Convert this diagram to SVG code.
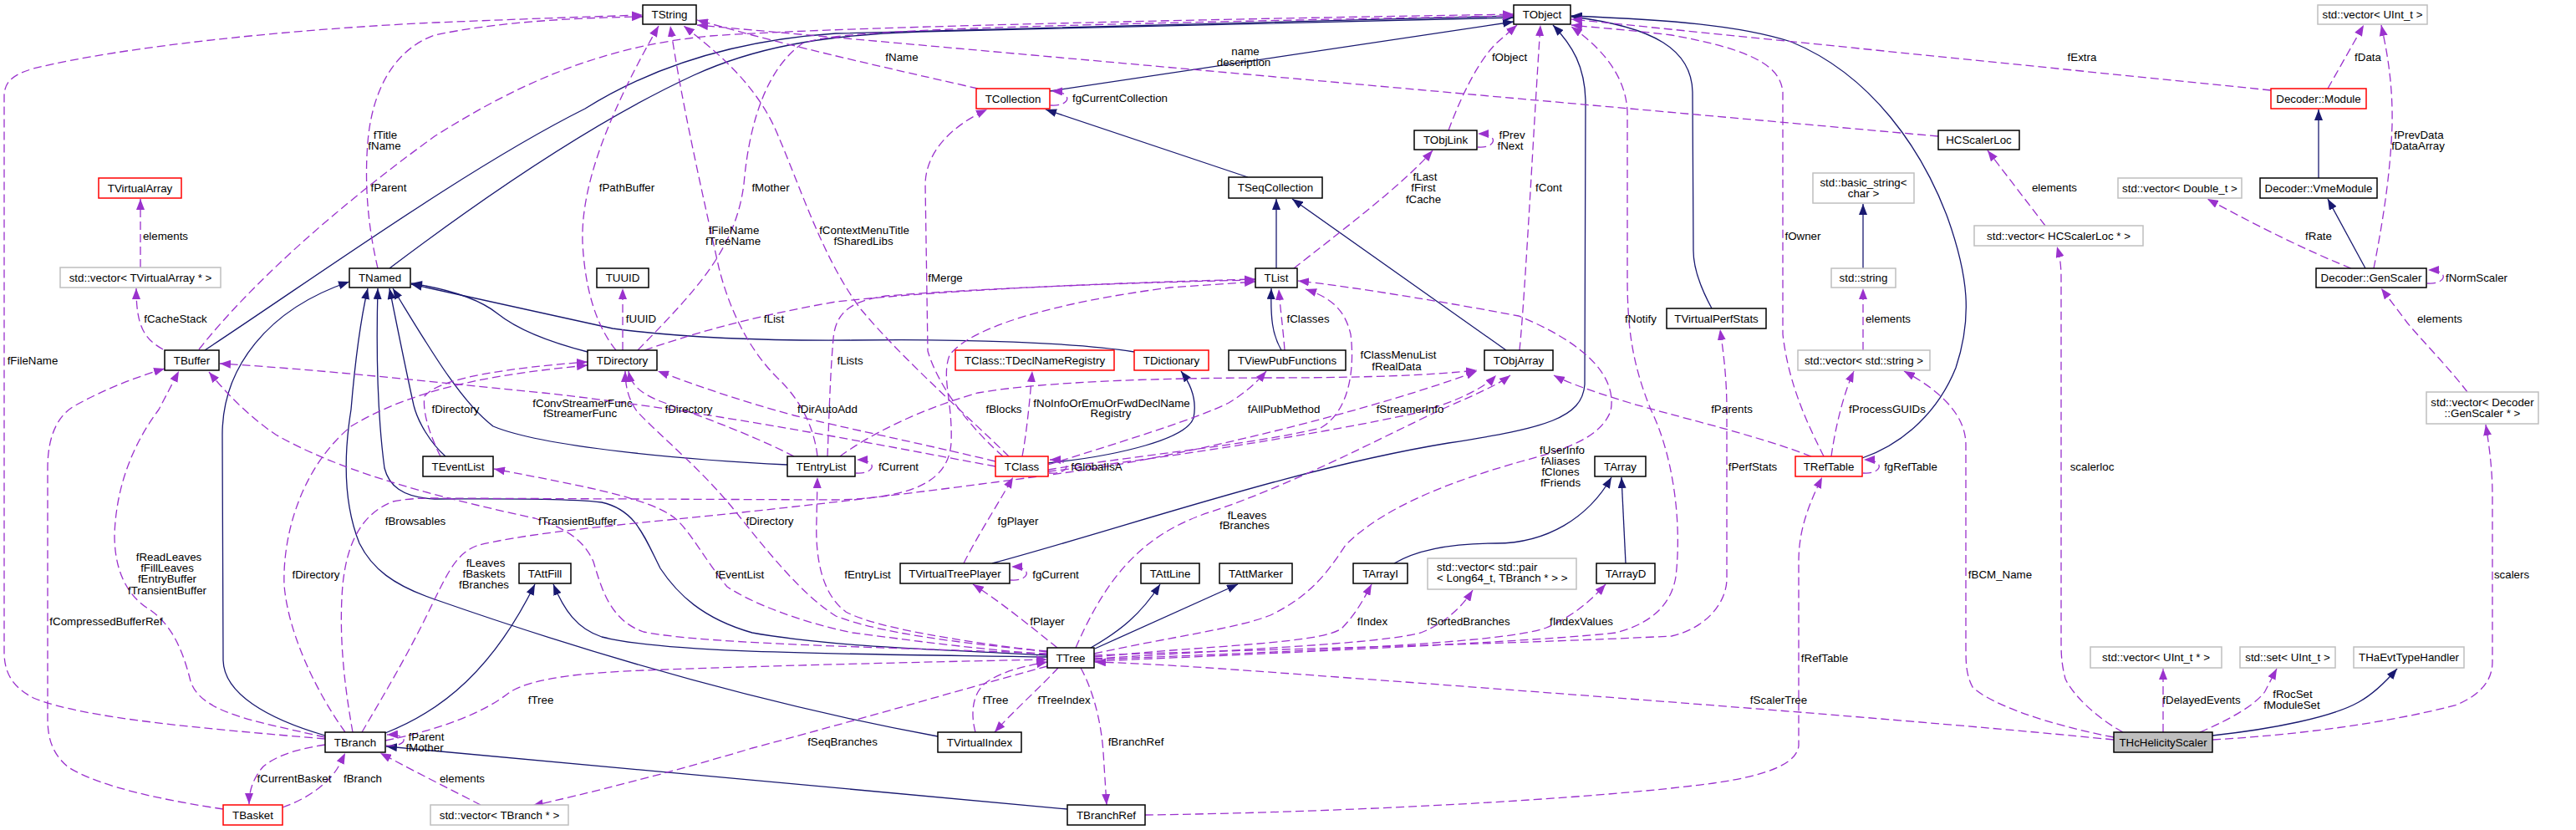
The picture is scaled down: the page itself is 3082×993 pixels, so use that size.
<svg xmlns="http://www.w3.org/2000/svg" width="3082" height="993" viewBox="0 0 3082 993">
<defs>
<style>
.n rect{fill:#fff;stroke:#000;stroke-width:1.5}
.n.r rect{stroke:#ff0000}
.n.g rect{stroke:#bfbfbf}
.n.h rect{fill:#bfbfbf}
text{font-family:"Liberation Sans",Arial,Helvetica,sans-serif;font-size:13.33px;fill:#000;text-anchor:middle}
.s{fill:none;stroke:#191970;stroke-width:1.3;marker-end:url(#an)}
.d{fill:none;stroke:#9a32cd;stroke-width:1.3;stroke-dasharray:10,5;marker-end:url(#ap)}
</style>
<marker id="an" markerUnits="userSpaceOnUse" markerWidth="13" markerHeight="10" refX="13" refY="5" orient="auto"><path d="M0,0 L13,5 L0,10 z" fill="#191970"/></marker>
<marker id="ap" markerUnits="userSpaceOnUse" markerWidth="13" markerHeight="10" refX="13" refY="5" orient="auto"><path d="M0,0 L13,5 L0,10 z" fill="#9a32cd"/></marker>
</defs>
<rect width="3082" height="993" fill="#fff"/>
<g id="connectors">
<path class="s" d="M466,321 C560,250 700,150 830,90 C900,58 980,42 1100,38 L1811,21"/>
<path class="s" d="M245,419 C380,330 560,200 700,130 C780,80 880,48 1000,40 L1811,19"/>
<path class="s" d="M1256,109 L1811,26"/>
<path class="s" d="M1493,212 L1251,131"/>
<path class="s" d="M1527,321 L1527,238"/>
<path class="s" d="M1802,419 L1546,238"/>
<path class="s" d="M1533,419 C1522,400 1520,380 1521,345"/>
<path class="s" d="M703,421 C660,410 620,395 595,375 C570,355 530,345 492,339"/>
<path class="s" d="M1357,421 C1290,410 1150,405 1020,407 C900,408 800,402 733,393 L492,340"/>
<path class="s" d="M1254,554 C1340,545 1420,525 1428,500 C1432,480 1425,460 1413,444"/>
<path class="s" d="M533,546 C515,530 500,505 495,485 C485,440 475,390 466,345"/>
<path class="s" d="M942,556 C820,550 650,535 590,510 C550,480 510,410 470,345"/>
<path class="s" d="M389,880 C320,860 268,830 267,790 L266,520 C266,440 320,370 418,337"/>
<path class="s" d="M1253,784 C1150,778 1000,775 900,757 C840,740 810,710 790,680 C770,640 760,610 720,601 C680,596 600,597 520,597 C480,595 465,580 460,560 C452,500 450,420 452,345"/>
<path class="s" d="M1122,881 C900,840 700,780 520,717 C470,700 445,680 430,650 C410,600 412,540 420,490 C425,430 432,380 440,345"/>
<path class="s" d="M461,877 C530,850 590,800 640,699"/>
<path class="s" d="M1253,786 C1000,782 800,782 720,762 C690,752 675,730 662,699"/>
<path class="s" d="M1305,775 C1340,755 1365,735 1388,699"/>
<path class="s" d="M1310,776 L1481,699"/>
<path class="s" d="M1187,674 C1350,630 1550,560 1733,530 C1850,512 1893,500 1896,460 L1897,120 C1896,80 1882,55 1858,30"/>
<path class="s" d="M2048,369 C2035,345 2026,320 2026,300 L2025,110 C2024,60 1980,32 1880,20"/>
<path class="s" d="M2228,548 C2280,530 2320,490 2340,440 C2360,380 2355,330 2330,260 C2300,180 2240,90 2143,50 C2080,30 2000,24 1880,19"/>
<path class="s" d="M1668,674 C1700,655 1750,650 1790,650 C1850,650 1900,620 1928,571"/>
<path class="s" d="M1945,674 L1940,571"/>
<path class="s" d="M2229,321 L2229,244"/>
<path class="s" d="M2774,213 L2774,131"/>
<path class="s" d="M2830,321 L2785,238"/>
<path class="s" d="M2647,880 C2720,872 2790,858 2822,840 C2840,830 2855,815 2868,800"/>
<path class="s" d="M1277,968 L462,893"/>

<path class="d" d="M168,320 L168,238"/>
<path class="d" d="M195,418 C172,405 163,390 163,345"/>
<path class="d" d="M238,418 C300,340 400,250 520,163 C620,100 720,55 850,43 C1000,32 1500,22 1811,17"/>
<path class="d" d="M452,321 C440,270 436,220 440,170 C445,110 470,60 520,42 C600,25 700,21 769,20"/>
<path class="d" d="M389,884 C250,872 100,860 40,835 C15,822 5,805 5,780 L5,115 C5,95 20,88 40,82 C150,55 350,35 520,27 C620,23 700,20 769,18"/>
<path class="d" d="M737,419 C715,392 700,350 697,290 C695,230 720,150 788,31"/>
<path class="d" d="M763,419 C830,350 880,300 890,220 C897,140 920,80 960,52 C1000,38 1100,32 1811,19"/>
<path class="d" d="M745,419 L745,345"/>
<path class="d" d="M771,419 C850,392 920,375 1000,361 C1150,345 1350,338 1502,334"/>
<path class="d" d="M978,546 C975,518 962,482 930,452 C890,412 870,360 860,320 C840,230 815,120 802,31"/>
<path class="d" d="M990,546 C992,500 993,450 997,405 C1000,372 1020,360 1060,354 C1200,343 1400,337 1502,335"/>
<path class="d" d="M1170,106 C1100,90 1000,68 900,42 L834,24"/>
<path class="d" d="M2319,163 L834,30"/>
<path class="d" d="M1207,546 C1160,500 1080,430 1030,370 C985,310 960,230 930,160 C905,100 855,60 818,31"/>
<path class="d" d="M1200,546 C1170,520 1125,470 1110,420 L1107,220 C1108,180 1140,150 1181,131"/>
<path class="d" d="M1191,558 C1050,532 850,492 650,470 C500,455 380,442 263,435"/>
<path class="d" d="M1191,552 C1100,530 1010,512 950,497 C880,478 830,460 787,444"/>
<path class="d" d="M950,546 C900,520 830,495 790,480 C765,470 755,460 752,444"/>
<path class="d" d="M527,546 C514,520 505,492 508,474 C525,452 610,440 703,433"/>
<path class="d" d="M413,876 C380,830 345,760 340,700 C338,640 360,560 420,510 C500,462 600,447 703,437"/>
<path class="d" d="M389,882 C300,862 240,852 228,815 C218,775 205,748 180,730 C150,712 137,680 137,640 C139,580 160,530 190,490 L214,444"/>
<path class="d" d="M267,968 C200,958 120,942 82,918 C62,902 57,882 57,860 L57,560 C57,520 70,495 92,484 C125,466 160,452 197,441"/>
<path class="d" d="M1253,782 C1100,775 850,772 770,756 C730,742 720,705 710,672 C697,642 670,630 640,620 C500,590 400,560 330,520 C300,500 272,472 250,445"/>
<path class="d" d="M433,876 C460,830 490,780 520,717 C538,680 548,662 570,653 C620,640 700,632 800,622 C950,607 1100,590 1300,562 C1500,530 1700,470 1767,444"/>
<path class="d" d="M422,876 C412,820 405,760 410,700 C415,650 432,615 470,600 C490,596 510,596 520,596 L1000,598 C1100,596 1135,572 1138,530 C1140,480 1126,452 1136,425 C1160,392 1260,362 1400,344 L1502,337"/>
<path class="d" d="M1254,562 C1350,546 1500,532 1580,512 C1615,492 1621,440 1616,400 C1609,370 1592,356 1562,346"/>
<path class="d" d="M1537,419 C1535,392 1532,372 1530,346"/>
<path class="d" d="M1254,556 C1330,532 1430,502 1470,482 C1490,470 1505,456 1515,444"/>
<path class="d" d="M1254,564 C1400,548 1600,515 1690,495 C1740,482 1775,465 1790,449"/>
<path class="d" d="M1005,546 C1040,520 1100,490 1170,470 C1250,456 1400,452 1520,452 C1650,452 1720,448 1767,443"/>
<path class="d" d="M1223,546 C1228,520 1232,480 1235,444"/>
<path class="d" d="M1255,566 C1280,568 1285,550 1256,550"/>
<path class="d" d="M1153,674 C1170,640 1190,610 1212,571"/>
<path class="d" d="M1209,694 C1232,696 1237,678 1210,678"/>
<path class="d" d="M1265,775 C1240,755 1200,722 1164,699"/>
<path class="d" d="M1287,775 C1320,700 1360,640 1450,612 C1550,578 1650,525 1720,492 C1760,474 1790,462 1807,449"/>
<path class="d" d="M1309,782 C1400,762 1480,752 1520,736 C1570,712 1590,682 1610,652 C1660,602 1750,572 1820,552 C1880,536 1915,522 1927,492 C1935,452 1900,412 1817,378 C1700,356 1600,341 1553,336"/>
<path class="d" d="M1309,791 C1500,783 1850,767 1933,757 C1980,745 2000,720 2005,690 C2013,620 2000,540 1975,490 C1955,440 1947,400 1947,333 L1947,133 C1945,93 1920,60 1880,32"/>
<path class="d" d="M1309,786 C1450,772 1580,770 1605,752 C1622,735 1632,716 1641,699"/>
<path class="d" d="M1309,788 C1500,776 1650,770 1700,757 C1730,745 1750,725 1762,706"/>
<path class="d" d="M1309,789 C1500,781 1800,771 1850,751 C1882,737 1902,720 1921,699"/>
<path class="d" d="M1266,799 C1245,822 1215,848 1190,876"/>
<path class="d" d="M1167,876 C1160,850 1165,826 1182,815 C1202,802 1230,796 1253,792"/>
<path class="d" d="M1293,799 C1310,830 1318,870 1320,900 L1324,963"/>
<path class="d" d="M1253,797 C1150,825 1050,855 900,895 C800,925 700,950 637,964"/>
<path class="d" d="M461,886 C530,872 580,852 610,828 C640,810 700,805 770,802 C900,797 1100,792 1253,789"/>
<path class="d" d="M1253,783 C1150,775 1060,762 1020,757 C960,745 900,722 870,702 C845,672 830,642 810,622 C780,596 700,582 591,561"/>
<path class="d" d="M1253,780 C1150,767 1050,752 1012,732 C985,712 975,672 977,622 L978,571"/>
<path class="d" d="M1253,779 C1150,770 1050,757 1000,737 C960,712 920,662 880,612 C840,562 790,522 762,492 C752,478 748,462 748,444"/>
<path class="d" d="M1024,566 C1047,568 1052,550 1025,550"/>
<path class="d" d="M338,966 C370,955 395,935 405,917 L413,901"/>
<path class="d" d="M389,891 C350,897 330,905 315,917 C302,932 298,947 298,962"/>
<path class="d" d="M575,963 C540,945 500,925 455,901"/>
<path class="d" d="M462,892 C488,894 492,878 463,879"/>
<path class="d" d="M2167,546 C2100,520 2000,497 1950,482 C1900,467 1872,456 1859,449"/>
<path class="d" d="M2182,546 C2165,512 2140,462 2133,400 L2133,110 C2130,80 2100,60 2000,42 C1950,36 1910,33 1880,30"/>
<path class="d" d="M2191,546 C2196,510 2206,470 2218,444"/>
<path class="d" d="M2229,566 C2252,568 2257,550 2230,550"/>
<path class="d" d="M1309,784 C1500,777 1800,771 2000,761 C2040,752 2066,722 2066,692 L2066,492 C2066,452 2062,422 2058,394"/>
<path class="d" d="M2529,885 C2300,862 1900,832 1600,810 C1450,799 1380,794 1310,792"/>
<path class="d" d="M1370,975 C1600,972 1900,957 2050,937 C2120,927 2150,912 2152,892 L2152,672 C2152,632 2165,602 2180,571"/>
<path class="d" d="M2529,882 C2450,867 2380,842 2360,822 C2352,807 2352,792 2352,772 L2352,532 C2352,502 2330,472 2278,444"/>
<path class="d" d="M2540,876 C2510,860 2480,832 2471,812 C2466,792 2466,782 2466,762 L2466,332 C2466,312 2463,302 2461,295"/>
<path class="d" d="M2588,876 L2588,800"/>
<path class="d" d="M2632,876 C2670,860 2700,842 2710,827 L2724,800"/>
<path class="d" d="M2647,885 C2750,879 2850,866 2937,844 C2970,831 2982,812 2982,792 L2982,592 C2982,562 2978,532 2974,508"/>
<path class="d" d="M2952,469 C2930,440 2900,410 2880,386 L2849,345"/>
<path class="d" d="M2904,339 C2927,341 2932,323 2905,323"/>
<path class="d" d="M2813,321 C2760,300 2700,270 2641,238"/>
<path class="d" d="M2840,321 C2850,270 2860,210 2862,150 C2863,100 2856,62 2849,30"/>
<path class="d" d="M2785,106 L2828,30"/>
<path class="d" d="M2717,108 L1880,23"/>
<path class="d" d="M1733,156 C1750,110 1770,72 1790,52 L1815,30"/>
<path class="d" d="M1768,176 C1790,178 1795,160 1768,160"/>
<path class="d" d="M1548,321 C1600,280 1680,220 1714,180"/>
<path class="d" d="M1818,419 C1825,350 1835,150 1843,30"/>
<path class="d" d="M1257,126 C1280,128 1286,110 1258,109"/>
<path class="d" d="M2447,270 L2378,180"/>
<path class="d" d="M2229,419 L2229,345"/>

<g id="edge-labels">
<text x="198" y="287">elements</text>
<text x="210" y="386">fCacheStack</text>
<text x="39" y="436">fFileName</text>
<text x="461" y="166">fTitle</text><text x="460" y="179">fName</text>
<text x="465" y="229">fParent</text>
<text x="750" y="229">fPathBuffer</text>
<text x="922" y="229">fMother</text>
<text x="878" y="280">fFileName</text><text x="877" y="293">fTreeName</text>
<text x="1034" y="280">fContextMenuTitle</text><text x="1033" y="293">fSharedLibs</text>
<text x="767" y="386">fUUID</text>
<text x="926" y="386">fList</text>
<text x="545" y="494">fDirectory</text>
<text x="697" y="487">fConvStreamerFunc</text><text x="694" y="499">fStreamerFunc</text>
<text x="824" y="494">fDirectory</text>
<text x="990" y="494">fDirAutoAdd</text>
<text x="1079" y="73">fName</text>
<text x="1490" y="66">name</text><text x="1488" y="79">description</text>
<text x="1340" y="122">fgCurrentCollection</text>
<text x="1131" y="337">fMerge</text>
<text x="1017" y="436">fLists</text>
<text x="1201" y="494">fBlocks</text>
<text x="1330" y="487">fNoInfoOrEmuOrFwdDeclName</text><text x="1329" y="499">Registry</text>
<text x="1536" y="494">fAllPubMethod</text>
<text x="1806" y="73">fObject</text>
<text x="1809" y="166">fPrev</text><text x="1807" y="179">fNext</text>
<text x="1705" y="216">fLast</text><text x="1703" y="229">fFirst</text><text x="1703" y="243">fCache</text>
<text x="1853" y="229">fCont</text>
<text x="1565" y="386">fClasses</text>
<text x="1963" y="386">fNotify</text>
<text x="1673" y="429">fClassMenuList</text><text x="1671" y="443">fRealData</text>
<text x="1687" y="494">fStreamerInfo</text>
<text x="2491" y="73">fExtra</text>
<text x="2458" y="229">elements</text>
<text x="2157" y="287">fOwner</text>
<text x="2259" y="386">elements</text>
<text x="2072" y="494">fParents</text>
<text x="2258" y="494">fProcessGUIDs</text>
<text x="2833" y="73">fData</text>
<text x="2894" y="166">fPrevData</text><text x="2893" y="179">fDataArray</text>
<text x="2774" y="287">fRate</text>
<text x="2963" y="337">fNormScaler</text>
<text x="2919" y="386">elements</text>
<text x="497" y="628">fBrowsables</text>
<text x="202" y="671">fReadLeaves</text><text x="200" y="684">fFillLeaves</text><text x="200" y="697">fEntryBuffer</text><text x="200" y="711">fTransientBuffer</text>
<text x="127" y="748">fCompressedBufferRef</text>
<text x="378" y="692">fDirectory</text>
<text x="510" y="886">fParent</text><text x="508" y="899">fMother</text>
<text x="352" y="936">fCurrentBasket</text>
<text x="434" y="936">fBranch</text>
<text x="691" y="628">fTransientBuffer</text>
<text x="581" y="678">fLeaves</text><text x="579" y="691">fBaskets</text><text x="579" y="704">fBranches</text>
<text x="921" y="628">fDirectory</text>
<text x="885" y="692">fEventList</text>
<text x="1038" y="692">fEntryList</text>
<text x="647" y="842">fTree</text>
<text x="553" y="936">elements</text>
<text x="1008" y="892">fSeqBranches</text>
<text x="1075" y="563">fCurrent</text>
<text x="1312" y="563">fGlobalIsA</text>
<text x="1218" y="628">fgPlayer</text>
<text x="1492" y="621">fLeaves</text><text x="1489" y="633">fBranches</text>
<text x="1263" y="692">fgCurrent</text>
<text x="1253" y="748">fPlayer</text>
<text x="1191" y="842">fTree</text>
<text x="1273" y="842">fTreeIndex</text>
<text x="1359" y="892">fBranchRef</text>
<text x="1869" y="543">fUserInfo</text><text x="1867" y="556">fAliases</text><text x="1867" y="569">fClones</text><text x="1867" y="582">fFriends</text>
<text x="1642" y="748">fIndex</text>
<text x="1757" y="748">fSortedBranches</text>
<text x="1892" y="748">fIndexValues</text>
<text x="2097" y="563">fPerfStats</text>
<text x="2286" y="563">fgRefTable</text>
<text x="2393" y="692">fBCM_Name</text>
<text x="2183" y="792">fRefTable</text>
<text x="2128" y="842">fScalerTree</text>
<text x="2503" y="563">scalerloc</text>
<text x="3005" y="692">scalers</text>
<text x="2634" y="842">fDelayedEvents</text>
<text x="2743" y="835">fRocSet</text><text x="2742" y="848">fModuleSet</text>
</g>
</g>

<g id="node-TVirtualArray" class="n r"><rect x="118" y="213" width="99" height="24"/><text x="167.5" y="229.5">TVirtualArray</text></g>
<g id="node-vector-TVirtualArray" class="n g"><rect x="72" y="320" width="192" height="24"/><text x="168" y="336.5">std::vector&lt; TVirtualArray * &gt;</text></g>
<g id="node-TBuffer" class="n"><rect x="197" y="419" width="65" height="24"/><text x="229.5" y="435.5">TBuffer</text></g>
<g id="node-TNamed" class="n"><rect x="418" y="321" width="73" height="23"/><text x="454.5" y="337">TNamed</text></g>
<g id="node-TString" class="n"><rect x="769" y="6" width="64" height="23"/><text x="801" y="22">TString</text></g>
<g id="node-TUUID" class="n"><rect x="714" y="321" width="62" height="23"/><text x="745" y="337">TUUID</text></g>
<g id="node-TDirectory" class="n"><rect x="703" y="419" width="83" height="24"/><text x="744.5" y="435.5">TDirectory</text></g>
<g id="node-TCollection" class="n r"><rect x="1168" y="106" width="88" height="24"/><text x="1212" y="122.5">TCollection</text></g>
<g id="node-TSeqCollection" class="n"><rect x="1470" y="212" width="112" height="25"/><text x="1526" y="229">TSeqCollection</text></g>
<g id="node-TDeclNameRegistry" class="n r"><rect x="1143" y="419" width="190" height="24"/><text x="1238" y="435.5">TClass::TDeclNameRegistry</text></g>
<g id="node-TDictionary" class="n r"><rect x="1357" y="419" width="89" height="24"/><text x="1401.5" y="435.5">TDictionary</text></g>
<g id="node-TViewPubFunctions" class="n"><rect x="1470" y="419" width="140" height="24"/><text x="1540" y="435.5">TViewPubFunctions</text></g>
<g id="node-TList" class="n"><rect x="1502" y="321" width="50" height="23"/><text x="1527" y="337">TList</text></g>
<g id="node-TObject" class="n"><rect x="1811" y="6" width="68" height="23"/><text x="1845" y="22">TObject</text></g>
<g id="node-TObjLink" class="n"><rect x="1692" y="156" width="75" height="23"/><text x="1729.5" y="172">TObjLink</text></g>
<g id="node-TObjArray" class="n"><rect x="1776" y="419" width="82" height="24"/><text x="1817" y="435.5">TObjArray</text></g>
<g id="node-TVirtualPerfStats" class="n"><rect x="1994" y="369" width="119" height="24"/><text x="2053.5" y="385.5">TVirtualPerfStats</text></g>
<g id="node-HCScalerLoc" class="n"><rect x="2319" y="156" width="97" height="23"/><text x="2367.5" y="172">HCScalerLoc</text></g>
<g id="node-basic_string" class="n g"><rect x="2169" y="207" width="121" height="36"/><text x="2229.5" y="223">std::basic_string&lt;</text><text x="2229.5" y="236">char &gt;</text></g>
<g id="node-std-string" class="n g"><rect x="2191" y="321" width="77" height="23"/><text x="2229.5" y="337">std::string</text></g>
<g id="node-vector-string" class="n g"><rect x="2151" y="419" width="158" height="24"/><text x="2230" y="435.5">std::vector&lt; std::string &gt;</text></g>
<g id="node-vector-HCScalerLoc" class="n g"><rect x="2362" y="270" width="202" height="24"/><text x="2463" y="286.5">std::vector&lt; HCScalerLoc * &gt;</text></g>
<g id="node-vector-UInt_t" class="n g"><rect x="2773" y="6" width="131" height="23"/><text x="2838.5" y="22">std::vector&lt; UInt_t &gt;</text></g>
<g id="node-Decoder-Module" class="n r"><rect x="2717" y="106" width="114" height="24"/><text x="2774" y="122.5">Decoder::Module</text></g>
<g id="node-vector-Double_t" class="n g"><rect x="2534" y="213" width="148" height="24"/><text x="2608" y="229.5">std::vector&lt; Double_t &gt;</text></g>
<g id="node-Decoder-VmeModule" class="n"><rect x="2704" y="213" width="140" height="24"/><text x="2774" y="229.5">Decoder::VmeModule</text></g>
<g id="node-Decoder-GenScaler" class="n"><rect x="2771" y="321" width="132" height="23"/><text x="2837" y="337">Decoder::GenScaler</text></g>
<g id="node-vector-GenScaler" class="n g"><rect x="2903" y="469" width="134" height="38"/><text x="2970" y="486">std::vector&lt; Decoder</text><text x="2970" y="499">::GenScaler * &gt;</text></g>
<g id="node-TBranch" class="n"><rect x="389" y="876" width="72" height="24"/><text x="425" y="892.5">TBranch</text></g>
<g id="node-TBasket" class="n r"><rect x="267" y="963" width="71" height="24"/><text x="302.5" y="979.5">TBasket</text></g>
<g id="node-TEventList" class="n"><rect x="506" y="546" width="84" height="24"/><text x="548" y="562.5">TEventList</text></g>
<g id="node-TEntryList" class="n"><rect x="942" y="546" width="81" height="24"/><text x="982.5" y="562.5">TEntryList</text></g>
<g id="node-TAttFill" class="n"><rect x="621" y="674" width="62" height="24"/><text x="652" y="690.5">TAttFill</text></g>
<g id="node-vector-TBranch" class="n g"><rect x="515" y="963" width="165" height="24"/><text x="597.5" y="979.5">std::vector&lt; TBranch * &gt;</text></g>
<g id="node-TClass" class="n r"><rect x="1191" y="546" width="63" height="24"/><text x="1222.5" y="562.5">TClass</text></g>
<g id="node-TVirtualTreePlayer" class="n"><rect x="1077" y="674" width="131" height="24"/><text x="1142.5" y="690.5">TVirtualTreePlayer</text></g>
<g id="node-TAttLine" class="n"><rect x="1365" y="674" width="70" height="24"/><text x="1400" y="690.5">TAttLine</text></g>
<g id="node-TAttMarker" class="n"><rect x="1459" y="674" width="87" height="24"/><text x="1502.5" y="690.5">TAttMarker</text></g>
<g id="node-TTree" class="n"><rect x="1253" y="775" width="56" height="24"/><text x="1281" y="791.5">TTree</text></g>
<g id="node-TVirtualIndex" class="n"><rect x="1122" y="876" width="100" height="24"/><text x="1172" y="892.5">TVirtualIndex</text></g>
<g id="node-TBranchRef" class="n"><rect x="1277" y="963" width="93" height="24"/><text x="1323.5" y="979.5">TBranchRef</text></g>
<g id="node-TArray" class="n"><rect x="1908" y="546" width="61" height="24"/><text x="1938.5" y="562.5">TArray</text></g>
<g id="node-TArrayI" class="n"><rect x="1619" y="674" width="65" height="24"/><text x="1651.5" y="690.5">TArrayI</text></g>
<g id="node-vector-pair" class="n g"><rect x="1708" y="668" width="178" height="37"/><text x="1719" y="683" style="text-anchor:start">std::vector&lt; std::pair</text><text x="1719" y="696" style="text-anchor:start">&lt; Long64_t, TBranch * &gt; &gt;</text></g>
<g id="node-TArrayD" class="n"><rect x="1910" y="674" width="70" height="24"/><text x="1945" y="690.5">TArrayD</text></g>
<g id="node-TRefTable" class="n r"><rect x="2148" y="546" width="80" height="24"/><text x="2188" y="562.5">TRefTable</text></g>
<g id="node-THcHelicityScaler" class="n h"><rect x="2529" y="876" width="118" height="24"/><text x="2588" y="892.5">THcHelicityScaler</text></g>
<g id="node-vector-UInt_t-ptr" class="n g"><rect x="2501" y="774" width="157" height="25"/><text x="2579.5" y="791">std::vector&lt; UInt_t * &gt;</text></g>
<g id="node-set-UInt_t" class="n g"><rect x="2680" y="774" width="114" height="25"/><text x="2737" y="791">std::set&lt; UInt_t &gt;</text></g>
<g id="node-THaEvtTypeHandler" class="n g"><rect x="2816" y="774" width="132" height="25"/><text x="2882" y="791">THaEvtTypeHandler</text></g>
</svg>
